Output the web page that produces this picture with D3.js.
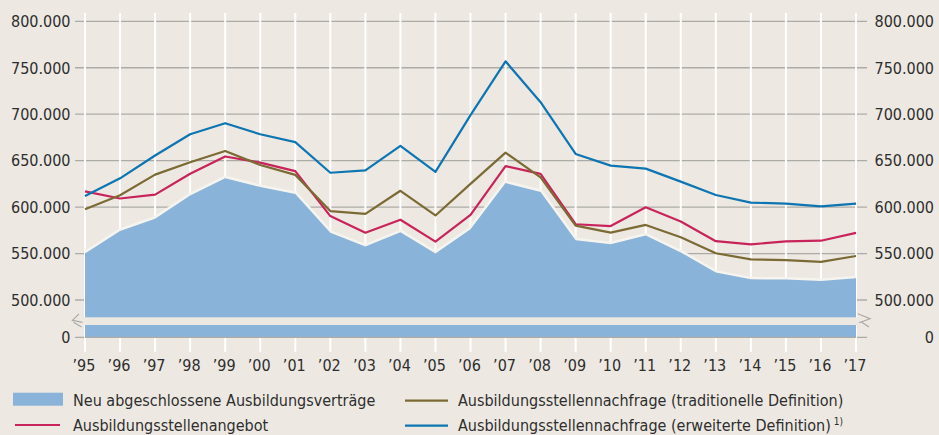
<!DOCTYPE html>
<html lang="de">
<head>
<meta charset="utf-8">
<script src="https://cdn.jsdelivr.net/npm/d3@7"></script>
<style>
  html, body { margin: 0; padding: 0; background: #ede9e2; }
  svg { display: block; }
  text { font-family: "DejaVu Sans Condensed", "DejaVu Sans", sans-serif; fill: #2e2e2e; }
</style>
</head>
<body>
<svg id="chart" width="939" height="435"></svg>
<script>
// Jahre 1995–2017
const years = d3.range(1995, 2018);
const yearLabels = years.map(y => "\u2019" + String(y).slice(2));

// Neu abgeschlossene Ausbildungsverträge
const vertraege = [550000, 574327, 587517, 612529, 631015, 621693, 614236, 572323, 557634, 572980,
  550180, 576153, 625885, 616342, 564307, 559960, 569379, 551258, 529542, 522232, 522094, 520332, 523290];
// Ausbildungsstellenangebot
const angebot = [616988, 609274, 613382, 635933, 654454, 647900, 638771, 590328, 572474, 586374,
  562816, 591540, 644028, 635758, 581562, 579564, 599829, 584547, 563280, 559877, 563054, 563808, 572226];
// Ausbildungsstellennachfrage (traditionelle Definition)
const nachfrageTrad = [597736, 612785, 634938, 648204, 660380, 645335, 634698, 595706, 592649, 617556,
  591000, 625000, 658600, 632000, 580000, 572500, 580800, 567500, 550300, 543800, 543000, 541000, 547400];
// Ausbildungsstellennachfrage (erweiterte Definition)
const nachfrageErw = [612000, 631000, 655500, 678400, 690300, 678400, 670000, 637000, 639600, 666000,
  638000, 699000, 756900, 712900, 657200, 644600, 641400, 627400, 613000, 604800, 603700, 600800, 603700];

// Achsenbeschriftungen
const yTicks = [500000, 550000, 600000, 650000, 700000, 750000, 800000];
const fmt = d3.format(",.0f");
const tickLabel = v => fmt(v).replace(/,/g, ".");

const colors = {
  bg: "#ede9e2",
  area: "#89b3d8",
  angebot: "#c8235a",
  trad: "#7c6a34",
  erw: "#0d75b1",
  grid: "#adaba7"
};

const svg = d3.select("#chart");

// Layout
const xL = 85, xR = 856;
const zeroY = 337.3, gapTop = 317.3, gapBottom = 325;
const vTop = 13, vBottom = 352;

const x = d3.scalePoint().domain(years).range([xL, xR]);
const y = d3.scaleLinear().domain([500000, 800000]).range([300, 21.3]);

// Horizontale Rasterlinien inkl. Nulllinie
const gridYs = yTicks.map(v => y(v)).concat([zeroY]);
svg.append("g").selectAll("line").data(gridYs).join("line")
  .attr("x1", xL - 10).attr("x2", xR + 11)
  .attr("y1", d => d).attr("y2", d => d)
  .attr("stroke", colors.grid).attr("stroke-width", 1.3);

// Senkrechte weiße Jahreslinien
svg.append("g").selectAll("line").data(years).join("line")
  .attr("x1", d => x(d)).attr("x2", d => x(d))
  .attr("y1", vTop).attr("y2", vBottom)
  .attr("stroke", "#ffffff").attr("stroke-width", 2);

// Fläche: neu abgeschlossene Verträge
const topLine = d3.line().x((d, i) => x(years[i])).y(d => y(d));
svg.append("path").datum(vertraege)
  .attr("d", topLine)
  .attr("fill", "none").attr("stroke", "#f6f4ef").attr("stroke-width", 5).attr("stroke-linejoin", "round");
const area = d3.area().x((d, i) => x(years[i])).y0(zeroY).y1(d => y(d));
svg.append("path").datum(vertraege)
  .attr("d", area).attr("fill", colors.area);

// Achsenbruch
svg.append("rect")
  .attr("x", xL - 1).attr("width", xR - xL + 2)
  .attr("y", gapTop).attr("height", gapBottom - gapTop)
  .attr("fill", colors.bg);
svg.append("line")
  .attr("x1", xL).attr("x2", xR).attr("y1", zeroY).attr("y2", zeroY)
  .attr("stroke", colors.grid).attr("stroke-width", 1.3);

// Bruchzeichen links und rechts der Zeichenfläche
svg.append("path")
  .attr("d", `M${xL - 6},${gapTop - 3.5} L${xL - 12.5},${gapTop + 3} L${xL - 2.5},${gapTop + 5} M${xL - 11.5},${gapTop + 5} L${xL - 3.5},${gapBottom + 2}`)
  .attr("fill", "none").attr("stroke", "#a9a8a6").attr("stroke-width", 1.2);
svg.append("path")
  .attr("d", `M${xR + 2},${gapTop - 3.5} L${xR + 14},${gapTop + 1.5} L${xR + 3},${gapTop + 5.5} M${xR + 5},${gapTop + 4.5} L${xR + 13},${gapBottom + 2}`)
  .attr("fill", "none").attr("stroke", "#a9a8a6").attr("stroke-width", 1.2);

// Linien
const line = d3.line().x((d, i) => x(years[i])).y(d => y(d));
[[angebot, colors.angebot], [nachfrageTrad, colors.trad], [nachfrageErw, colors.erw]].forEach(([data, c]) => {
  svg.append("path").datum(data)
    .attr("d", line)
    .attr("fill", "none").attr("stroke", c).attr("stroke-width", 2.2)
    .attr("stroke-linejoin", "round");
});

// Y-Achsenbeschriftungen links und rechts
const labelData = yTicks.map(v => ({ y: y(v), t: tickLabel(v) })).concat([{ y: zeroY, t: "0" }]);
svg.append("g").selectAll("text").data(labelData).join("text")
  .attr("x", 70.5).attr("y", d => d.y).attr("dy", "0.36em")
  .attr("text-anchor", "end").attr("font-size", 16)
  .text(d => d.t);
svg.append("g").selectAll("text").data(labelData).join("text")
  .attr("x", 934).attr("y", d => d.y).attr("dy", "0.36em")
  .attr("text-anchor", "end").attr("font-size", 16)
  .text(d => d.t);

// X-Achsenbeschriftungen
svg.append("g").selectAll("text").data(years).join("text")
  .attr("x", d => x(d) - 1).attr("y", 370.5)
  .attr("text-anchor", "middle").attr("font-size", 16)
  .text((d, i) => yearLabels[i]);

// Legende
const lg = svg.append("g");
lg.append("rect").attr("x", 13).attr("y", 392.7).attr("width", 50).attr("height", 13).attr("fill", colors.area);
lg.append("text").attr("x", 73).attr("y", 406).attr("font-size", 16).text("Neu abgeschlossene Ausbildungsverträge");
lg.append("line").attr("x1", 15).attr("x2", 60).attr("y1", 425).attr("y2", 425)
  .attr("stroke", colors.angebot).attr("stroke-width", 2.2);
lg.append("text").attr("x", 73).attr("y", 431).attr("font-size", 16).text("Ausbildungsstellenangebot");
lg.append("line").attr("x1", 405).attr("x2", 448).attr("y1", 400.7).attr("y2", 400.7)
  .attr("stroke", colors.trad).attr("stroke-width", 2.2);
lg.append("text").attr("x", 458).attr("y", 406).attr("font-size", 16).text("Ausbildungsstellennachfrage (traditionelle Definition)");
lg.append("line").attr("x1", 405).attr("x2", 448).attr("y1", 425.7).attr("y2", 425.7)
  .attr("stroke", colors.erw).attr("stroke-width", 2.2);
const t4 = lg.append("text").attr("x", 458).attr("y", 431).attr("font-size", 16);
t4.append("tspan").text("Ausbildungsstellennachfrage (erweiterte Definition)");
t4.append("tspan").attr("dx", 3).attr("dy", -6).attr("font-size", 10).text("1)");
</script>
</body>
</html>
